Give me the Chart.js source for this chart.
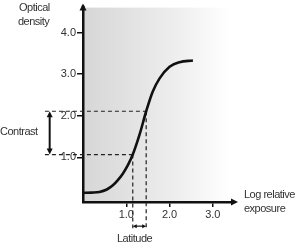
<!DOCTYPE html>
<html lang="en">
<head>
    <meta charset="UTF-8">
    <title>Characteristic curve</title>
    <style>
        body {
            margin: 0;
            background: #fff;
        }
        #chart-container {
            width: 295px;
            height: 245px;
        }
    </style>
    <script src="https://cdn.jsdelivr.net/npm/chart.js"></script>
</head>
<body>
    <div id="chart-container">
        <canvas id="curveChart"></canvas>
    </div>

    <script>
        // characteristic curve
        const exposure = [0, 0.2, 0.38, 0.55, 0.69, 0.8, 0.92, 1.04, 1.15, 1.31, 1.46, 1.61, 1.77, 2.0, 2.23, 2.54];
        const density = [0.15, 0.155, 0.17, 0.23, 0.33, 0.45, 0.61, 0.82, 1.07, 1.56, 2.11, 2.58, 2.9, 3.18, 3.29, 3.33];

        const xTicks = [1, 2, 3];
        const yTicks = [1, 2, 3, 4];

        // contrast / latitude guide values
        const densityLow = 1.07;
        const densityHigh = 2.11;
        const exposureLow = 1.15;
        const exposureHigh = 1.46;
        const guideLeft = -0.88;    // where the dashed horizontals start
        const guideBottom = -0.7;   // where the dashed verticals stop
        const contrastX = -0.77;
        const latitudeY = -0.65;

        const textColor = '#333';
        const fontFamily = '"Liberation Sans", Arial, sans-serif';

        const curve = exposure.map((x, i) => ({ x: x, y: density[i] }));

        function dashed(points) {
            return {
                data: points,
                showLine: true,
                borderColor: '#222',
                borderWidth: 1.2,
                borderDash: [4, 3],
                pointRadius: 0,
                clip: false
            };
        }

        // grey gradient behind the plot
        const backdrop = {
            id: 'backdrop',
            beforeDraw(chart) {
                const { ctx, chartArea: a } = chart;
                const g = ctx.createLinearGradient(a.left, 0, a.right, 0);
                g.addColorStop(0, '#d6d6d6');
                g.addColorStop(0.6, '#ededed');
                g.addColorStop(1, '#ffffff');
                ctx.save();
                ctx.fillStyle = g;
                ctx.fillRect(a.left, a.top, a.right - a.left, a.bottom - a.top);
                ctx.restore();
            }
        };

        function arrowHead(ctx, x, y, angle, len, half) {
            ctx.save();
            ctx.translate(x, y);
            ctx.rotate(angle);
            ctx.beginPath();
            ctx.moveTo(0, 0);
            ctx.lineTo(-len, -half);
            ctx.lineTo(-len, half);
            ctx.closePath();
            ctx.fill();
            ctx.restore();
        }

        // axis arrows, guide arrowheads and free labels
        const annotations = {
            id: 'annotations',
            afterDraw(chart) {
                const { ctx, chartArea: a } = chart;
                const xs = chart.scales.x;
                const ys = chart.scales.y;
                ctx.save();
                ctx.fillStyle = '#111';
                ctx.strokeStyle = '#111';
                // axis arrows
                ctx.lineWidth = 2.5;
                ctx.beginPath();
                ctx.moveTo(a.left, a.top);
                ctx.lineTo(a.left, a.top - 2);
                ctx.moveTo(a.right, a.bottom);
                ctx.lineTo(a.right + 2, a.bottom);
                ctx.stroke();
                arrowHead(ctx, a.left, a.top - 4, -Math.PI / 2, 7, 3.5);
                arrowHead(ctx, a.right + 7, a.bottom, 0, 7, 3.5);

                // contrast arrowheads
                const cx = xs.getPixelForValue(contrastX);
                arrowHead(ctx, cx, ys.getPixelForValue(densityHigh), -Math.PI / 2, 6, 3);
                arrowHead(ctx, cx, ys.getPixelForValue(densityLow), Math.PI / 2, 6, 3);

                // latitude arrowheads
                const ly = ys.getPixelForValue(latitudeY);
                arrowHead(ctx, xs.getPixelForValue(exposureLow), ly, Math.PI, 4, 2);
                arrowHead(ctx, xs.getPixelForValue(exposureHigh), ly, 0, 4, 2);

                // texts (slightly condensed like the original)
                ctx.fillStyle = textColor;
                ctx.font = '11px ' + fontFamily;
                ctx.letterSpacing = '-0.5px';
                ctx.textBaseline = 'middle';
                ctx.textAlign = 'left';
                ctx.fillText('Optical', 19, 8);
                ctx.fillText('density', 18, 22);
                ctx.fillText('Latitude', 117, 239);
                ctx.fillText('Contrast', 0, 132);
                ctx.fillText('Log relative', 244, 195);
                ctx.fillText('exposure', 244, 209);
                ctx.restore();
            }
        };

        function createChart() {
            const ctx = document.getElementById('curveChart').getContext('2d');
            new Chart(ctx, {
                type: 'scatter',
                data: {
                    datasets: [
                        {
                            data: curve,
                            showLine: true,
                            borderColor: '#111',
                            borderWidth: 2.6,
                            cubicInterpolationMode: 'monotone',
                            pointRadius: 0,
                            clip: false
                        },
                        dashed([{ x: guideLeft, y: densityHigh }, { x: exposureHigh, y: densityHigh }]),
                        dashed([{ x: guideLeft, y: densityLow }, { x: exposureLow, y: densityLow }]),
                        dashed([{ x: exposureLow, y: densityLow }, { x: exposureLow, y: guideBottom }]),
                        dashed([{ x: exposureHigh, y: densityHigh }, { x: exposureHigh, y: guideBottom }]),
                        {
                            data: [{ x: contrastX, y: densityLow + 0.1 }, { x: contrastX, y: densityHigh - 0.1 }],
                            showLine: true,
                            borderColor: '#111',
                            borderWidth: 2,
                            pointRadius: 0,
                            clip: false
                        },
                        {
                            data: [{ x: exposureLow + 0.05, y: latitudeY }, { x: exposureHigh - 0.05, y: latitudeY }],
                            showLine: true,
                            borderColor: '#111',
                            borderWidth: 1.2,
                            pointRadius: 0,
                            clip: false
                        }
                    ]
                },
                options: {
                    responsive: true,
                    maintainAspectRatio: false,
                    animation: false,
                    layout: {
                        padding: { top: 5, right: 64, bottom: 0, left: 0 }
                    },
                    plugins: {
                        legend: { display: false },
                        tooltip: { enabled: false }
                    },
                    scales: {
                        x: {
                            type: 'linear',
                            min: 0,
                            max: 3.42,
                            afterFit(scale) { scale.height = 43; },
                            afterBuildTicks(scale) { scale.ticks = xTicks.map(v => ({ value: v })); },
                            grid: {
                                drawOnChartArea: false,
                                drawTicks: true,
                                tickLength: 5,
                                color: '#111',
                                lineWidth: 1.5
                            },
                            border: { display: true, color: '#111', width: 2.5 },
                            ticks: {
                                padding: 1,
                                color: textColor,
                                font: { family: fontFamily, size: 11 },
                                callback: v => v.toFixed(1)
                            }
                        },
                        y: {
                            type: 'linear',
                            min: -0.07,
                            max: 4.6,
                            afterFit(scale) { scale.width = 83; },
                            afterBuildTicks(scale) { scale.ticks = yTicks.map(v => ({ value: v })); },
                            grid: {
                                drawOnChartArea: false,
                                drawTicks: true,
                                tickLength: 6,
                                color: '#111',
                                lineWidth: 1.5
                            },
                            border: { display: true, color: '#111', width: 2.5 },
                            ticks: {
                                padding: 1,
                                color: textColor,
                                font: { family: fontFamily, size: 11 },
                                callback: v => v.toFixed(1)
                            }
                        }
                    }
                },
                plugins: [backdrop, annotations]
            });
        }

        createChart();
    </script>
</body>
</html>
